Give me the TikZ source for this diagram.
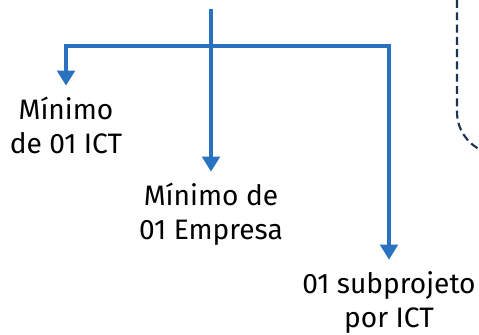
\documentclass[tikz,border=0pt]{standalone}
\usepackage{fontspec}
\setmainfont{Fira Sans}
\usepackage{xcolor}
\usepackage{tikz}
\usetikzlibrary{arrows.meta}

\definecolor{ramo}{RGB}{40,114,192}
\definecolor{contorno}{RGB}{28,52,82}

\begin{document}
\begin{tikzpicture}[x=0.02cm, y=-0.02cm,
        seta/.style={draw=ramo, line width=1.9pt, -{Triangle[width=10pt,length=8.5pt]}, shorten >=6.5pt},
        rotulo/.style={align=center, anchor=north, inner sep=0pt, font=\fontsize{16}{19.4}\selectfont}]
        \useasboundingbox (0, 0) rectangle (479, 334);

        % rotulos
        \node [rotulo] (ict) at (66, 97) {Mínimo\\de 01 ICT};
        \node [rotulo] (empresa) at (211, 183) {Mínimo de\\01 Empresa};
        \node [rotulo] (sub) at (389, 271) {01 subprojeto\\por ICT};

        \coordinate (topo) at (211, 9);
        \coordinate (barra) at (211, 46);

        % ramos
        \draw [seta] (barra) -| (ict);
        \draw [seta] (barra) -| (sub);
        \draw [seta] (topo) -- (empresa);

        % canto tracejado
        \draw [contorno, line width=1.2pt, dash pattern=on 4.5pt off 2.5pt]
            (457, 0) -- (457, 112) arc[start angle=180, end angle=245, radius=0.84cm];
\end{tikzpicture}
\end{document}
